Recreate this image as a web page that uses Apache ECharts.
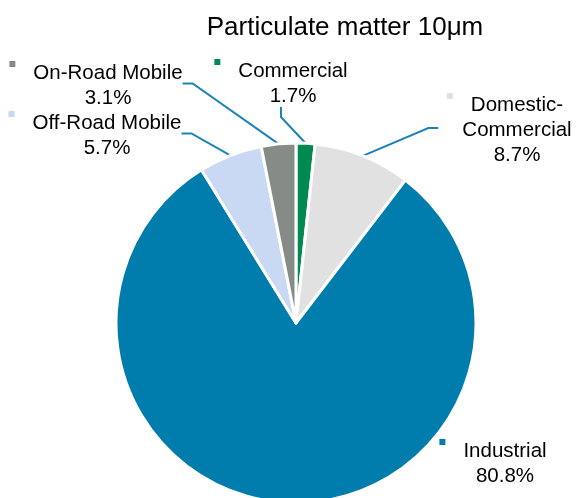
<!DOCTYPE html>
<html>
<head>
<meta charset="utf-8">
<script src="https://cdn.jsdelivr.net/npm/echarts@6/dist/echarts.min.js"></script>
<style>
  html, body { margin: 0; padding: 0; background: #fff; }
  #chart { width: 577px; height: 498px; }
</style>
</head>
<body>
<div id="chart"></div>
<script>
// data, clockwise from 12 o'clock
var categories = ['Commercial', 'Domestic-\nCommercial', 'Industrial', 'Off-Road Mobile', 'On-Road Mobile']
var shares = [1.7, 8.7, 80.8, 5.7, 3.1]
var colors = ['#008a50', '#e0e1e0', '#007dad', '#c9d9f3', '#858c88']

// where each label block sits (centre x of the text, top y)
var labelSpots = [
    { x: 281, y: 59 },
    { x: 505, y: 93 },
    { x: 493, y: 439 },
    { x: 95, y: 111 },
    { x: 96, y: 61 }
]

var FONT = '"Liberation Sans", Arial, sans-serif'

var rich = {
    g: { width: 18 },
    n: { fontSize: 20.5, lineHeight: 25, fontFamily: FONT, color: '#000' },
    p: { fontSize: 20.5, lineHeight: 25, fontFamily: FONT, color: '#000', padding: [0, 0, 0, 24] }
}
colors.forEach(function (c, i) {
    rich['m' + i] = { width: 6, height: 6, backgroundColor: c, verticalAlign: 'top' }
})

var pieData = categories.map(function (name, i) {
    var item = { name: name, value: shares[i], itemStyle: { color: colors[i] } }
    if (name === 'Industrial') {
        item.labelLine = { show: false }
    }
    return item
})

var chart = echarts.init(document.getElementById('chart'), null, { renderer: 'canvas' })

chart.setOption({
    animation: false,
    title: {
        text: 'Particulate matter 10μm',
        left: 340,
        top: 10,
        textAlign: 'center',
        textStyle: { fontFamily: FONT, fontSize: 26, fontWeight: 'normal', color: '#000' }
    },
    series: [{
        type: 'pie',
        center: [296, 323],
        radius: [0, 180],
        startAngle: 90,
        clockwise: true,
        avoidLabelOverlap: false,
        itemStyle: { borderColor: '#fff', borderWidth: 3 },
        label: {
            show: true,
            position: 'outside',
            formatter: function (p) {
                var lines = p.name.split('\n')
                var out = '{m' + p.dataIndex + '|}{g|}{n|' + lines[0] + '}'
                for (var k = 1; k < lines.length; k++) {
                    out += '\n{p|' + lines[k] + '}'
                }
                out += '\n{p|' + p.value.toFixed(1) + '%}'
                return out
            },
            rich: rich
        },
        labelLine: {
            show: true,
            length: 15,
            length2: 10,
            lineStyle: { color: '#1a84b6', width: 2 }
        },
        labelLayout: function (params) {
            var s = labelSpots[params.dataIndex]
            return { x: s.x, y: s.y, align: 'center', verticalAlign: 'top' }
        },
        data: pieData
    }]
})
</script>
</body>
</html>
